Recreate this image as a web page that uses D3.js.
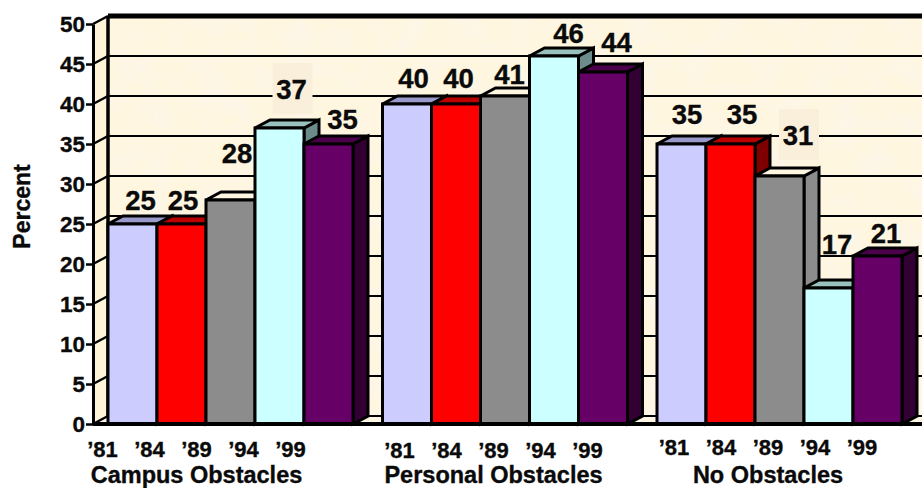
<!DOCTYPE html>
<html>
<head>
<meta charset="utf-8">
<script src="https://cdn.jsdelivr.net/npm/d3@7/dist/d3.min.js"></script>
<style>
html,body{margin:0;padding:0;background:#fff;overflow:hidden}
svg{display:block}
text{font-family:"Liberation Sans",Arial,sans-serif;font-weight:700;fill:#0a0a0a;stroke:#0a0a0a;stroke-width:.35px}
</style>
</head>
<body>
<svg id="chart" width="922" height="488"></svg>
<script>
// Survey data: share of respondents per survey year, by obstacle group
const groups = ["Campus Obstacles", "Personal Obstacles", "No Obstacles"];
const years = ["\u201981", "\u201984", "\u201989", "\u201994", "\u201999"];
const campusValues = [25, 25, 28, 37, 35];
const personalValues = [40, 40, 41, 46, 44];
const noObstacleValues = [35, 35, 31, 17, 21];
const groupValues = [campusValues, personalValues, noObstacleValues];
const yTicks = [0, 5, 10, 15, 20, 25, 30, 35, 40, 45, 50];
const yAxisTitle = "Percent";

// Year colours: front, top and side faces of each 3D column
const frontFill = ["#ccccff", "#ff0000", "#8c8c8c", "#ccffff", "#660066"];
const topFill = ["#9999cc", "#bb0000", "#fff6e2", "#99c0bc", "#4c004c"];
const sideFill = ["#7a7aa3", "#800000", "#8c8c8c", "#6b8c8a", "#330033"];

// Hand placement of the value labels, relative to their columns
const labelNudgeX = [
  [9, 2.5, 7.5, 13, 15],
  [7.5, 3.5, 5.5, 15.5, 14.5],
  [6.5, 12.5, 19.5, 9.5, 9.5]
];
const labelNudgeY = [
  [-14, -14, -37, -29, -15],
  [-16, -16, -12, -13, -20],
  [-20, -20, -31, -34, -13]
];
// Labels that sit over a gridline get a small panel behind them
const panelled = new Set(["0-3", "2-2"]);
const axisCentreX = [196.5, 493.5, 768];
const yearBaseline = [457, 458, 455];
const groupBaseline = [483, 483, 483];

const W = 922, H = 488;
const depthX = 15, depthY = 8;
const wallLeft = 108;

const svg = d3.select("#chart");
const y = d3.scaleLinear().domain([0, 50]).range([424, 24]);
const xGroup = d3.scaleBand().domain(d3.range(groups.length)).range([wallLeft, wallLeft + 274.5 * 3]);
const xYear = d3.scaleBand().domain(d3.range(years.length)).range([0, 245]);
const xYearLabel = d3.scalePoint().domain(years).range([-94, 94]);

// Mottled paper texture for the back wall
const defs = svg.append("defs");
const paper = defs.append("filter").attr("id", "paper")
  .attr("x", 0).attr("y", 0).attr("width", "100%").attr("height", "100%");
paper.append("feTurbulence").attr("type", "fractalNoise")
  .attr("baseFrequency", "0.035").attr("numOctaves", 3).attr("seed", 7);
paper.append("feColorMatrix").attr("type", "matrix")
  .attr("values", "0 0 0 0 0.985  0 0 0 0 0.925  0 0 0 0 0.80  3.4 0 0 0 -1.55");
paper.append("feGaussianBlur").attr("stdDeviation", 0.8);

const wall = svg.append("g");
wall.append("rect").attr("x", wallLeft).attr("y", y(50) - depthY)
  .attr("width", W - wallLeft).attr("height", 400).attr("fill", "#fff6e0");
wall.append("rect").attr("x", wallLeft).attr("y", y(50) - depthY)
  .attr("width", W - wallLeft).attr("height", 400).attr("filter", "url(#paper)");

// Left side wall and floor
wall.append("polygon").attr("fill", "#fff3d8").attr("points", [
  [93, y(50)], [wallLeft, y(50) - depthY], [wallLeft, y(0) - depthY], [93, y(0)]
].join(" "));
wall.append("polygon").attr("fill", "#fff6e4").attr("points", [
  [93, y(0)], [wallLeft, y(0) - depthY], [W, y(0) - depthY], [W, y(0)]
].join(" "));

// Gridlines on the back wall, with their slanted continuation on the side wall
const grid = svg.append("g");
grid.selectAll("line.back").data(yTicks).join("line").attr("class", "back")
  .attr("x1", wallLeft).attr("x2", W)
  .attr("y1", d => y(d) - depthY).attr("y2", d => y(d) - depthY)
  .attr("stroke", "#000").attr("stroke-width", d => d === 50 ? 5 : 2);
grid.selectAll("line.side").data(yTicks).join("line").attr("class", "side")
  .attr("x1", 93).attr("x2", wallLeft)
  .attr("y1", d => y(d)).attr("y2", d => y(d) - depthY)
  .attr("stroke", "#000").attr("stroke-width", 2.5);
grid.append("line").attr("x1", wallLeft).attr("x2", wallLeft)
  .attr("y1", y(50) - depthY).attr("y2", y(0) - depthY)
  .attr("stroke", "#000").attr("stroke-width", 3.5);

// Value axis
const axis = d3.axisLeft(y).tickValues(yTicks).tickSize(7).tickPadding(1).tickSizeOuter(0);
const axisG = svg.append("g").attr("transform", "translate(93,0)").call(axis);
axisG.select(".domain").attr("stroke", "#000").attr("stroke-width", 3);
axisG.selectAll(".tick line").attr("stroke", "#000").attr("stroke-width", 2.5);
axisG.selectAll(".tick text").attr("font-size", 22.5)
  .attr("style", 'font-family:"Liberation Sans",Arial,sans-serif;font-weight:700;fill:#0a0a0a');

svg.append("text")
  .attr("transform", "translate(30,206.5) rotate(-90)")
  .attr("text-anchor", "middle").attr("font-size", 23).text(yAxisTitle);

// Panels go under the columns so that column faces stay on top
const rows = groupValues.flatMap((vals, g) => vals.map((v, i) => ({
  key: g + "-" + i, g, i, v,
  x0: xGroup(g) + xYear(i),
  x1: xGroup(g) + xYear(i) + xYear.bandwidth()
})));

svg.append("g").selectAll("rect").data(rows.filter(d => panelled.has(d.key))).join("rect")
  .attr("x", d => (d.x0 + d.x1) / 2 + labelNudgeX[d.g][d.i] - 20)
  .attr("y", d => y(d.v) + labelNudgeY[d.g][d.i] - 36)
  .attr("width", 40).attr("height", 51).attr("fill", "#f9efdb");

// Columns: side, top and front faces, drawn left to right so each overlaps the previous one
const face = s => s.attr("stroke", "#000").attr("stroke-width", 3).attr("stroke-linejoin", "miter");
const bars = svg.append("g").selectAll("g").data(rows).join("g");
bars.append("polygon").call(face).attr("fill", d => sideFill[d.i]).attr("points", d => [
  [d.x1, y(d.v)], [d.x1 + depthX, y(d.v) - depthY], [d.x1 + depthX, y(0) - depthY], [d.x1, y(0)]
].join(" "));
bars.append("polygon").call(face).attr("fill", d => topFill[d.i]).attr("points", d => [
  [d.x0, y(d.v)], [d.x0 + depthX, y(d.v) - depthY], [d.x1 + depthX, y(d.v) - depthY], [d.x1, y(d.v)]
].join(" "));
bars.append("rect").call(face).attr("fill", d => frontFill[d.i])
  .attr("x", d => d.x0).attr("y", d => y(d.v))
  .attr("width", d => d.x1 - d.x0).attr("height", d => y(0) - y(d.v));

// Floor edge
svg.append("line").attr("x1", 93).attr("x2", W).attr("y1", y(0)).attr("y2", y(0))
  .attr("stroke", "#000").attr("stroke-width", 4);

// Value labels
svg.append("g").selectAll("text").data(rows).join("text")
  .attr("x", d => (d.x0 + d.x1) / 2 + labelNudgeX[d.g][d.i] - 1)
  .attr("y", d => y(d.v) + labelNudgeY[d.g][d.i])
  .attr("text-anchor", "middle").attr("font-size", 27.5)
  .text(d => d.v);

// Survey years and group names beneath the columns
const under = svg.append("g").selectAll("g").data(groups).join("g");
under.selectAll("text.year").data((d, g) => years.map(label => ({ label, g }))).join("text")
  .attr("class", "year")
  .attr("x", d => axisCentreX[d.g] + xYearLabel(d.label))
  .attr("y", d => yearBaseline[d.g])
  .attr("text-anchor", "middle").attr("font-size", 22).text(d => d.label);
under.append("text")
  .attr("x", (d, g) => axisCentreX[g]).attr("y", (d, g) => groupBaseline[g])
  .attr("text-anchor", "middle").attr("font-size", 23.5).text(d => d);
</script>
</body>
</html>
